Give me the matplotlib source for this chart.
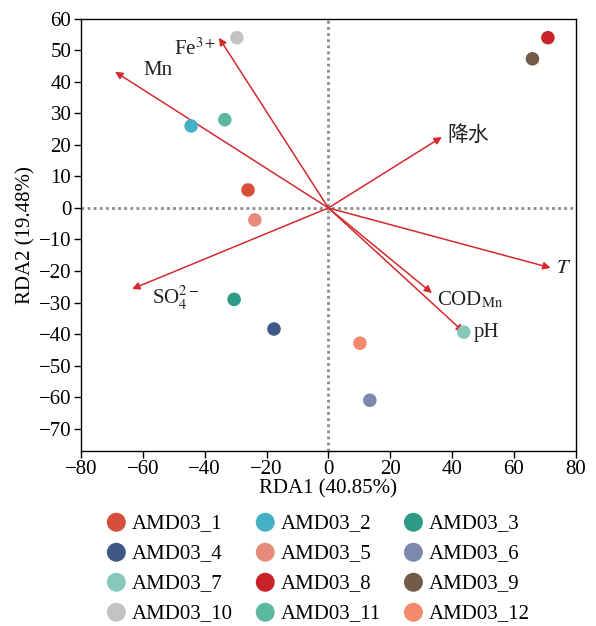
import matplotlib
matplotlib.use('Agg')
import matplotlib.pyplot as plt

plt.rcParams['font.family'] = ['Liberation Serif', 'Noto Sans CJK SC']
plt.rcParams['mathtext.fontset'] = 'stix'

# sample scores
samples = ['AMD03_1', 'AMD03_2', 'AMD03_3', 'AMD03_4', 'AMD03_5', 'AMD03_6',
           'AMD03_7', 'AMD03_8', 'AMD03_9', 'AMD03_10', 'AMD03_11', 'AMD03_12']
rda1 = [-26.0, -44.4, -30.5, -17.6, -23.8, 13.4, 43.8, 71.0, 66.0, -29.6, -33.5, 10.2]
rda2 = [5.7, 26.0, -29.0, -38.4, -3.8, -61.0, -39.4, 54.0, 47.3, 54.0, 28.0, -42.9]
colors = ['#D44E3A', '#45AFC5', '#2E9A84', '#3F5886', '#E68B7B', '#7C88AC',
          '#86C9BA', '#C8232B', '#745B48', '#C3C3C6', '#5BB89F', '#F4896B']

# environmental vectors
env_names = ['Fe$^{3+}$', 'Mn', '降水', 'SO$_4^{2-}$', '$T$', 'COD$_{\\mathrm{Mn}}$', 'pH']
env_x = [-35.4, -69.0, 36.7, -63.5, 71.9, 33.5, 43.8]
env_y = [54.0, 43.2, 22.5, -25.7, -19.0, -27.0, -39.4]
# label offsets from arrow tips (data units)
label_dx = [-14.5, 9.0, 1.8, 6.5, 1.6, 1.6, 3.2]
label_dy = [-3.5, 0.5, 0.5, -3.0, -0.3, -2.3, 0.0]

fig = plt.figure(figsize=(5.96, 6.26), dpi=100)
ax = fig.add_axes([0.136, 0.28, 0.830, 0.690])

ax.axhline(0, color='#8c8c8c', lw=2, ls=(0, (1, 1.2)), zorder=1)
ax.axvline(0, color='#8c8c8c', lw=2, ls=(0, (1, 1.2)), zorder=1)

handles = []
for i in range(len(samples)):
    h = ax.scatter(rda1[i], rda2[i], s=95, color=colors[i], edgecolors='none',
                   zorder=3, label=samples[i])
    handles.append(h)

for i in range(len(env_names)):
    ax.annotate('', xy=(env_x[i], env_y[i]), xytext=(0, 0),
                arrowprops=dict(arrowstyle='-|>', color='#D42A2E', lw=1.1,
                                mutation_scale=11, shrinkA=0, shrinkB=0),
                zorder=2)
    fam = ['Noto Sans CJK SC'] if env_names[i] == '降水' else ['Liberation Serif']
    ax.text(env_x[i] + label_dx[i], env_y[i] + label_dy[i], env_names[i],
            fontsize=15, family=fam, ha='left', va='center', color='#222222', zorder=4)

ax.set_xlim(-80, 80)
ax.set_ylim(-77, 60)
ax.set_xticks(range(-80, 81, 20))
ax.set_yticks(range(-70, 61, 10))
ax.set_xticklabels([str(v).replace('-', '\u2212') for v in range(-80, 81, 20)])
ax.set_yticklabels([str(v).replace('-', '\u2212') for v in range(-70, 61, 10)])
ax.tick_params(labelsize=15, direction='out', length=5, width=1, pad=2)
for sp in ax.spines.values():
    sp.set_linewidth(1)
ax.set_xlabel('RDA1 (40.85%)', fontsize=15, labelpad=0)
ax.set_ylabel('RDA2 (19.48%)', fontsize=15, labelpad=2)

order = [0, 3, 6, 9, 1, 4, 7, 10, 2, 5, 8, 11]
fig.legend([handles[k] for k in order], [samples[k] for k in order],
           ncol=3, loc='upper left', bbox_to_anchor=(0.155, 0.1936),
           frameon=False, fontsize=15, markerscale=1.4, handletextpad=0.0,
           columnspacing=0.8, labelspacing=0.5, handlelength=1.5,
           borderaxespad=0)

fig.savefig('out.png', dpi=100)
